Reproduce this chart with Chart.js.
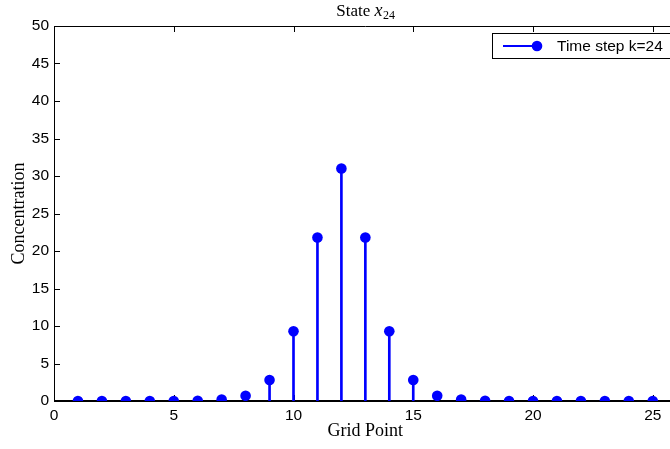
<!DOCTYPE html>
<html>
<head>
<meta charset="utf-8">
<script src="https://cdn.jsdelivr.net/npm/chart.js@4"></script>
<style>
  html, body { margin: 0; padding: 0; background: #fff; overflow: hidden; }
  #wrap { width: 682px; height: 449px; }
</style>
</head>
<body>
<div id="wrap"><canvas id="stateChart"></canvas></div>
<script>
// grid points and concentration at time step k=24
var gridPoints = [1, 2, 3, 4, 5, 6, 7, 8, 9, 10, 11, 12, 13, 14, 15, 16, 17, 18, 19, 20, 21, 22, 23, 24, 25];
var concentration = [0, 0, 0, 0, 0, 0.02, 0.2, 0.7, 2.8, 9.3, 21.8, 31.0, 21.8, 9.3, 2.8, 0.7, 0.2, 0.02, 0, 0, 0, 0, 0, 0, 0];
var xTicks = [0, 5, 10, 15, 20, 25];
var yTicks = [0, 5, 10, 15, 20, 25, 30, 35, 40, 45, 50];
var seriesLabel = 'Time step k=24';

var blue = '#0000ff';
var points = gridPoints.map(function (x, i) { return { x: x, y: concentration[i] }; });

// box, inward ticks, baseline, title and legend (MATLAB look)
var matlabPlugin = {
  id: 'matlab',
  beforeDatasetsDraw: function (chart) {
    var c = chart.ctx, a = chart.chartArea;
    var xs = chart.scales.x, ys = chart.scales.y;
    c.save();
    c.strokeStyle = '#000';
    c.lineWidth = 1;
    c.beginPath();
    c.moveTo(a.left + 0.5, a.bottom);
    c.lineTo(a.left + 0.5, a.top + 0.5);
    c.lineTo(a.right, a.top + 0.5);
    c.stroke();
    var tl = 6;
    c.beginPath();
    xTicks.forEach(function (v) {
      var px = Math.round(xs.getPixelForValue(v)) + 0.5;
      c.moveTo(px, a.top); c.lineTo(px, a.top + tl);
      c.moveTo(px, a.bottom); c.lineTo(px, a.bottom - tl);
    });
    yTicks.forEach(function (v) {
      var py = Math.round(ys.getPixelForValue(v)) + 0.5;
      c.moveTo(a.left, py); c.lineTo(a.left + tl, py);
    });
    c.stroke();
    // stem baseline
    var y0 = ys.getPixelForValue(0);
    c.lineWidth = 2.2;
    c.beginPath();
    c.moveTo(a.left, y0); c.lineTo(a.right, y0);
    c.stroke();
    c.restore();
  },
  afterDraw: function (chart) {
    var c = chart.ctx, a = chart.chartArea;
    c.save();
    // title: State x_24
    c.fillStyle = '#000';
    c.textBaseline = 'alphabetic';
    var f1 = '17px "Liberation Serif"', f2 = 'italic 18px "Liberation Serif"', f3 = '12px "Liberation Serif"';
    c.font = f1; var w1 = c.measureText('State ').width;
    c.font = f2; var w2 = c.measureText('x').width;
    c.font = f3; var w3 = c.measureText('24').width;
    var tx = (a.left + a.right) / 2 - (w1 + w2 + w3) / 2, ty = 16;
    c.font = f1; c.fillText('State ', tx, ty);
    c.font = f2; c.fillText('x', tx + w1, ty);
    c.font = f3; c.fillText('24', tx + w1 + w2 + 0.5, ty + 3);
    // legend
    var lx = 492.5, ly = 33.5, lw = 200, lh = 25;
    c.fillStyle = '#fff';
    c.fillRect(lx, ly, lw, lh);
    c.strokeStyle = '#000';
    c.lineWidth = 1;
    c.strokeRect(lx, ly, lw, lh);
    var my = ly + lh / 2;
    c.strokeStyle = blue;
    c.lineWidth = 2;
    c.beginPath();
    c.moveTo(503, my); c.lineTo(537, my);
    c.stroke();
    c.fillStyle = blue;
    c.beginPath();
    c.arc(537, my, 5.3, 0, Math.PI * 2);
    c.fill();
    c.fillStyle = '#000';
    c.font = '15.5px "Liberation Sans"';
    c.textBaseline = 'middle';
    c.fillText(seriesLabel, 557, my + 0.5);
    c.restore();
  }
};

new Chart(document.getElementById('stateChart'), {
  type: 'bar',
  data: {
    datasets: [
      {
        type: 'scatter',
        label: seriesLabel,
        data: points,
        showLine: false,
        pointRadius: 5.3,
        pointHoverRadius: 5.3,
        pointBackgroundColor: blue,
        pointBorderColor: blue,
        pointBorderWidth: 0,
        order: 0
      },
      {
        type: 'bar',
        label: 'stems',
        data: points,
        backgroundColor: blue,
        barThickness: 2,
        borderWidth: 0,
        order: 1
      }
    ]
  },
  options: {
    responsive: true,
    maintainAspectRatio: false,
    animation: false,
    events: [],
    layout: { padding: { top: 26, right: 4, left: 0, bottom: 0 } },
    plugins: { legend: { display: false }, tooltip: { enabled: false }, title: { display: false } },
    scales: {
      x: {
        type: 'linear',
        min: 0,
        max: 26,
        offset: false,
        grid: { display: false, tickLength: 0 },
        border: { display: false },
        afterBuildTicks: function (s) { s.ticks = xTicks.map(function (v) { return { value: v }; }); },
        ticks: { color: '#000', font: { family: 'Liberation Sans', size: 15.5 }, padding: 5, maxRotation: 0, autoSkip: false },
        title: { display: true, text: 'Grid Point', color: '#000', font: { family: 'Liberation Serif', size: 18 }, padding: { top: 0, bottom: 7 } },
        afterFit: function (s) { s.height = 48; }
      },
      y: {
        min: 0,
        max: 50,
        grid: { display: false, tickLength: 0 },
        border: { display: false },
        afterBuildTicks: function (s) { s.ticks = yTicks.map(function (v) { return { value: v }; }); },
        ticks: { color: '#000', font: { family: 'Liberation Sans', size: 15.5 }, padding: 5 },
        title: { display: true, text: 'Concentration', color: '#000', font: { family: 'Liberation Serif', size: 18 }, padding: { top: 8, bottom: 0 } },
        afterFit: function (s) { s.width = 54; }
      }
    }
  },
  plugins: [matlabPlugin]
});
</script>
</body>
</html>
